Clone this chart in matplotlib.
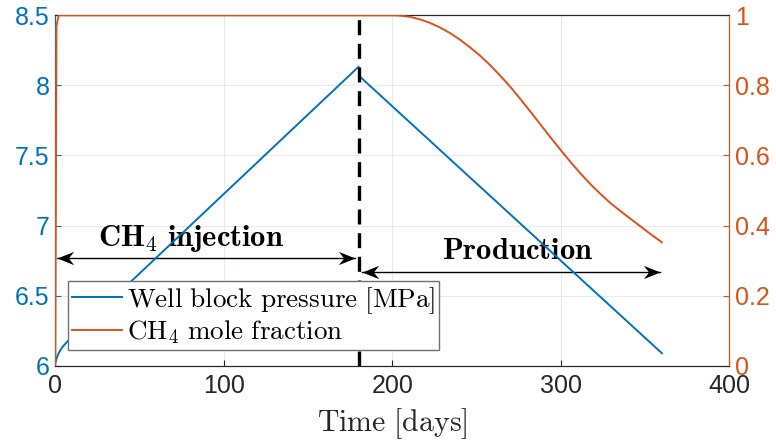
import matplotlib
matplotlib.use("Agg")
import matplotlib.pyplot as plt
from matplotlib.lines import Line2D
from matplotlib.path import Path

plt.rcParams['mathtext.fontset'] = 'cm'
plt.rcParams['font.family'] = ['Liberation Sans', 'DejaVu Sans']

# ---- data ----
t_pressure = [0, 1, 2, 4, 7, 180, 181, 360]
pressure = [6.02, 6.06, 6.09, 6.13, 6.17, 8.133, 8.06, 6.089]

t_frac = [0, 0.7, 2, 200, 205, 210, 216, 222, 228, 234, 240, 246, 252, 258, 264, 270, 276,
          282, 288, 294, 300, 306, 312, 318, 324, 330, 336, 342, 348, 354, 360]
ch4_frac = [0, 0.97, 1, 1, 0.999, 0.996, 0.989, 0.979, 0.966, 0.950, 0.931, 0.909, 0.885,
            0.858, 0.828, 0.796, 0.761, 0.725, 0.688, 0.651, 0.615, 0.580, 0.547, 0.516,
            0.488, 0.462, 0.439, 0.417, 0.395, 0.373, 0.352]

switch_time = 180
inj_arrow = (1.0, 178, 6.771)
prod_arrow = (182, 359, 6.671)
left_ticks = [6, 6.5, 7, 7.5, 8, 8.5]
left_ticklabels = ['6', '6.5', '7', '7.5', '8', '8.5']
right_ticks = [0, 0.2, 0.4, 0.6, 0.8, 1]
right_ticklabels = ['0', '0.2', '0.4', '0.6', '0.8', '1']
x_ticks = [0, 100, 200, 300, 400]

blue = '#0072BD'
orange = '#D95319'
grey = '#262626'

fig = plt.figure(figsize=(7.76, 4.43), dpi=100)
ax = fig.add_axes([55.3 / 776, 1 - 365.7 / 443, (729.3 - 55.3) / 776, (365.7 - 15.3) / 443])
ax2 = ax.twinx()

ax2.plot(t_frac, ch4_frac, color=orange, lw=1.4, zorder=3)
ax.plot(t_pressure, pressure, color=blue, lw=1.4, zorder=3)

ax.set_xlim(0, 400)
ax.set_ylim(6, 8.5)
ax2.set_ylim(0, 1)
ax.set_xticks(x_ticks)
ax.set_xticklabels([str(v) for v in x_ticks])
ax.set_yticks(left_ticks)
ax.set_yticklabels(left_ticklabels)
ax2.set_yticks(right_ticks)
ax2.set_yticklabels(right_ticklabels)

ax.grid(True, color='#e6ebf0', lw=0.8, zorder=0)
ax.set_axisbelow(True)

for a in (ax, ax2):
    a.tick_params(direction='in', length=4, width=0.8, labelsize=18)
ax.tick_params(axis='x', colors=grey, pad=6)
ax.tick_params(axis='y', colors=blue, pad=4)
ax2.tick_params(axis='y', colors=orange, pad=4)

for a in (ax, ax2):
    a.spines['top'].set_color(grey)
    a.spines['bottom'].set_color(grey)
    a.spines['left'].set_color(blue)
    a.spines['right'].set_color(orange)
    for s in a.spines.values():
        s.set_linewidth(0.8)

ax.set_xlabel(r'$\mathrm{Time\ [days]}$', fontsize=21.5, color=grey, labelpad=6)

# dashed switch line
ax.axvline(switch_time, color='black', lw=2.4, dashes=(4.5, 2.6), zorder=4)

# stealth arrowheads
head_r = Path([(0, 0), (-1, 0.4), (-0.68, 0), (-1, -0.4), (0, 0)],
              [Path.MOVETO, Path.LINETO, Path.LINETO, Path.LINETO, Path.CLOSEPOLY])
head_l = Path([(0, 0), (1, 0.4), (0.68, 0), (1, -0.4), (0, 0)],
              [Path.MOVETO, Path.LINETO, Path.LINETO, Path.LINETO, Path.CLOSEPOLY])
for (x0, x1, y) in (inj_arrow, prod_arrow):
    ax.plot([x0, x1], [y, y], color='black', lw=1.0, zorder=2)
    ax.plot([x0], [y], marker=head_l, markersize=24, color='black', markeredgewidth=0, zorder=2)
    ax.plot([x1], [y], marker=head_r, markersize=24, color='black', markeredgewidth=0, zorder=2)

ax.text(80.4, 6.91, r'$\mathbf{CH_4\ injection}$', fontsize=22, ha='center', va='center', zorder=1)
ax.text(274.4, 6.82, r'$\mathbf{Production}$', fontsize=22, ha='center', va='center', zorder=1)

handles = [Line2D([], [], color=blue, lw=1.4), Line2D([], [], color=orange, lw=1.4)]
labels = [r'$\mathrm{Well\ block\ pressure\ [MPa]}$', r'$\mathrm{CH_4\ mole\ fraction}$']
leg = ax2.legend(handles, labels, loc='upper left',
                 bbox_to_anchor=((67.5 - 55.3) / 674, 1 - (281 - 15.3) / 350.4),
                 borderaxespad=0, fontsize=19.5, frameon=True, fancybox=False,
                 edgecolor='#707070', framealpha=1, handlelength=1.85, handletextpad=0.2,
                 borderpad=0.15, labelspacing=0.1)
leg.get_frame().set_linewidth(1.0)
leg.set_zorder(10)

fig.savefig('out.png', dpi=100)
